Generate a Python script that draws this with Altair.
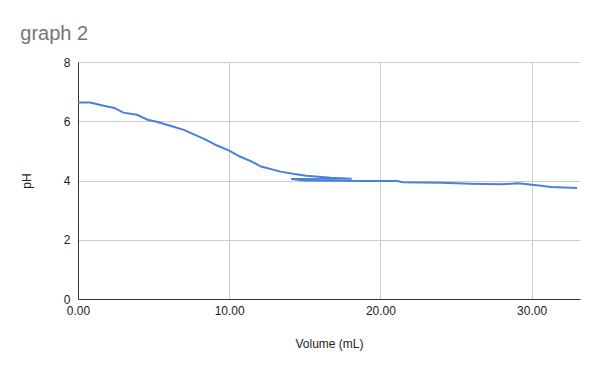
import altair as alt
import pandas as pd

volume = [0.0, 0.8, 1.7, 2.4, 3.0, 3.9, 4.6, 5.2, 6.1, 7.0, 7.7, 8.4, 9.2, 10.0,
          10.7, 11.5, 12.1, 13.4, 14.3, 15.1, 16.7, 18.1,
          14.1, 15.0, 17.0, 19.0, 21.1, 21.5, 24.0, 26.0, 28.0, 29.1, 30.2, 31.3, 33.0]
ph = [6.63, 6.63, 6.52, 6.45, 6.29, 6.22, 6.05, 5.98, 5.85, 5.71, 5.55, 5.39, 5.18, 5.01,
      4.81, 4.64, 4.47, 4.30, 4.22, 4.16, 4.09, 4.06,
      4.05, 4.00, 3.99, 3.98, 3.98, 3.94, 3.92, 3.89, 3.87, 3.91, 3.85, 3.78, 3.75]

df = pd.DataFrame({"Volume (mL)": volume, "pH": ph, "order": list(range(len(volume)))})

FONT = "Liberation Sans"

chart = alt.Chart(df).mark_line(color="#4a7fdb", strokeWidth=2).encode(
    x=alt.X("Volume (mL):Q",
            scale=alt.Scale(domain=[0, 33.2], nice=False, zero=False),
            axis=alt.Axis(values=[0, 10, 20, 30], format=".2f", title="Volume (mL)",
                          labelFont=FONT, labelFontSize=12, labelColor="#222222",
                          labelFlush=False,
                          titleFont=FONT, titleFontSize=12, titleColor="#222222",
                          titleFontWeight="normal", titlePadding=22,
                          domainColor="#333333", ticks=False, labelPadding=6,
                          gridColor="#cccccc")),
    y=alt.Y("pH:Q",
            scale=alt.Scale(domain=[0, 8], nice=False),
            axis=alt.Axis(values=[0, 2, 4, 6, 8], title="pH",
                          labelFont=FONT, labelFontSize=12, labelColor="#222222",
                          labelFlush=False,
                          titleFont=FONT, titleFontSize=12, titleColor="#222222",
                          titleFontWeight="normal", titlePadding=30,
                          domainColor="#333333", ticks=False, labelPadding=8,
                          gridColor="#cccccc")),
    order="order:Q",
).properties(
    width=502,
    height=237,
    padding={"left": 78, "top": 62, "right": 20, "bottom": 72},
    autosize=alt.AutoSizeParams(type="none"),
    title=alt.TitleParams("graph 2", anchor="start", font=FONT, fontSize=20,
                          fontWeight="normal", color="#757575",
                          offset=0, dy=4, baseline="alphabetic"),
).configure_view(stroke=None)

chart.save("out.html", embed_options={"renderer": "svg", "actions": False})
